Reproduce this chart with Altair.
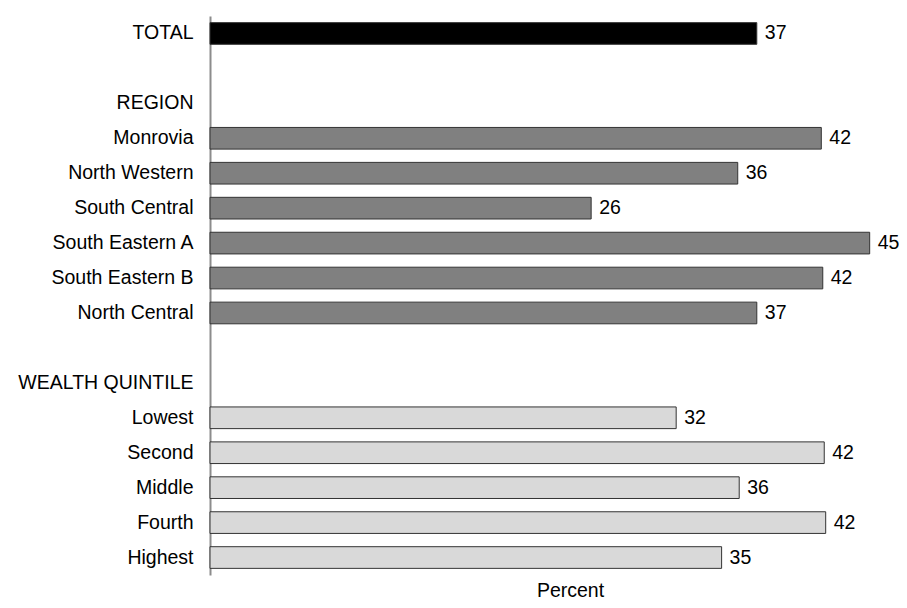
import altair as alt
import pandas as pd

# Rows from top to bottom; blank rows use distinct whitespace keys
categories = ["TOTAL", " ", "REGION", "Monrovia", "North Western", "South Central",
              "South Eastern A", "South Eastern B", "North Central ", "  ",
              "WEALTH QUINTILE", "Lowest", "Second", "Middle", "Fourth", "Highest"]
values = [37.3, None, None, 41.7, 36.0, 26.0, 45.0, 41.8, 37.3, None,
          None, 31.8, 41.9, 36.1, 42.0, 34.9]
labels = ["37", "", "", "42", "36", "26", "45", "42", "37", "",
          "", "32", "42", "36", "42", "35"]
groups = ["Total", "", "", "Region", "Region", "Region", "Region", "Region", "Region", "",
          "", "Wealth", "Wealth", "Wealth", "Wealth", "Wealth"]

df = pd.DataFrame({"cat": categories, "value": values, "label": labels, "group": groups})
bars_df = df[df["value"].notna()]

FONT = "Liberation Sans"
FS = 19.5

y_enc = alt.Y("cat:N", sort=categories,
              scale=alt.Scale(domain=categories, paddingInner=0.38, paddingOuter=0.19),
              axis=alt.Axis(title=None, ticks=False, tickSize=0, labelPadding=17,
                            labelFontSize=FS, labelFont=FONT, labelColor="#000000",
                            domainColor="#8c8c8c", domainWidth=2, grid=False,
                            labelLimit=300))
x_enc = alt.X("value:Q", scale=alt.Scale(domain=[0, 47], nice=False, zero=True),
              axis=alt.Axis(title="Percent", labels=False, ticks=False, domain=False,
                            grid=False, titleFontSize=FS, titleFont=FONT,
                            titleFontWeight="normal", titleColor="#000000",
                            titleX=360, titleY=21, titleAlign="center",
                            titleBaseline="alphabetic"))

bars = alt.Chart(bars_df).mark_bar(stroke="#333333", strokeWidth=1).encode(
    x=x_enc,
    y=y_enc,
    color=alt.Color("group:N",
                    scale=alt.Scale(domain=["Total", "Region", "Wealth"],
                                    range=["#000000", "#808080", "#d9d9d9"]),
                    legend=None),
)

text = alt.Chart(bars_df).mark_text(align="left", baseline="middle", dx=8,
                                    fontSize=FS, font=FONT, color="#000000").encode(
    x="value:Q",
    y=alt.Y("cat:N", sort=categories),
    text="label:N",
)

chart = (bars + text).properties(
    width=689, height=559,
    padding={"left": 202, "top": 8, "right": 0, "bottom": 25},
    autosize=alt.AutoSizeParams(type="none"),
    background="white",
).configure_view(stroke=None)

chart.save("out.html", embed_options={"renderer": "svg", "actions": False})
